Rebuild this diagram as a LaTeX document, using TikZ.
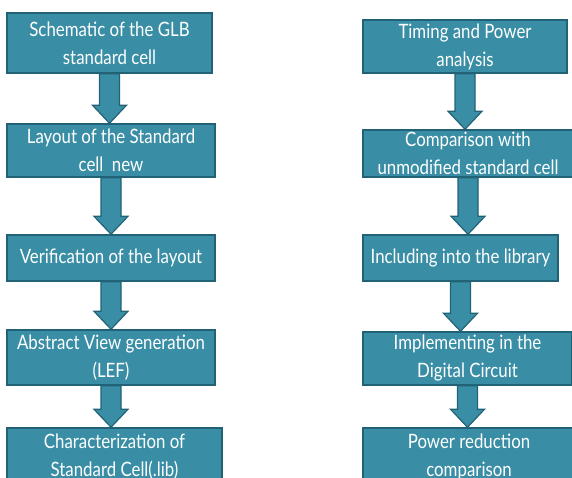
\documentclass[tikz,border=0pt]{standalone}
\usepackage{fontspec}
\setmainfont[FakeStretch=0.85]{Lato}
\usetikzlibrary{calc}
\definecolor{boxfill}{RGB}{57,142,165}
\definecolor{boxline}{RGB}{34,98,118}
\tikzset{
  stepbox/.style={draw=boxline, fill=boxfill, line width=1.5pt, text=white,
    align=center, inner sep=0pt, font=\fontsize{19.8}{28}\selectfont},
  flowarrow/.style={draw=boxline, fill=boxfill, line width=1.2pt, line join=miter}
}
% fat arrow from the bottom of one box to the top of the next
\newcommand{\blockarrow}[2]{%
  \draw[flowarrow] let \p1=(#1.south), \p2=(#2.north) in
    (\x1-10pt,\y1) -- (\x1+10pt,\y1) -- (\x1+10pt,\y2+18pt) -- (\x1+17pt,\y2+18pt)
    -- (\x1,\y2) -- (\x1-17pt,\y2+18pt) -- (\x1-10pt,\y2+18pt) -- cycle;}

\begin{document}
\begin{tikzpicture}[x=1pt,y=-1pt]
   \useasboundingbox (0,0) rectangle (572,477);
   \clip (0,0) rectangle (572,477);
   % left column
   \node[stepbox,minimum width=205pt,minimum height=60pt] (l1) at (109.5,43)
      {Schematic of the GLB\\standard cell};
   \node[stepbox,minimum width=208pt,minimum height=53pt] (l2) at (111,150.5)
      {Layout of the Standard\\cell~~new};
   \node[stepbox,minimum width=208pt,minimum height=46pt] (l3) at (111,258)
      {Verification of the layout};
   \node[stepbox,minimum width=208pt,minimum height=55pt] (l4) at (111,357.5)
      {Abstract View generation\\(LEF)};
   \node[stepbox,minimum width=215pt,minimum height=58pt] (l5) at (114.5,457)
      {Characterization of\\Standard Cell(.lib)};
   % right column
   \node[stepbox,minimum width=204pt,minimum height=53pt] (r1) at (465,46.5)
      {Timing and Power\\analysis};
   \node[stepbox,minimum width=210pt,minimum height=47pt] (r2) at (468,153.5)
      {Comparison with\\unmodified standard cell};
   \node[stepbox,minimum width=195pt,minimum height=46pt] (r3) at (460.5,258)
      {Including into the library};
   \node[stepbox,minimum width=209pt,minimum height=53pt] (r4) at (467.5,358.5)
      {Implementing in the\\Digital Circuit};
   \node[stepbox,minimum width=212pt,minimum height=58pt] (r5) at (469,457)
      {Power reduction\\comparison};
   % arrows
   \blockarrow{l1}{l2}
   \blockarrow{l2}{l3}
   \blockarrow{l3}{l4}
   \blockarrow{l4}{l5}
   \blockarrow{r1}{r2}
   \blockarrow{r2}{r3}
   \blockarrow{r3}{r4}
   \blockarrow{r4}{r5}
\end{tikzpicture}
\end{document}
